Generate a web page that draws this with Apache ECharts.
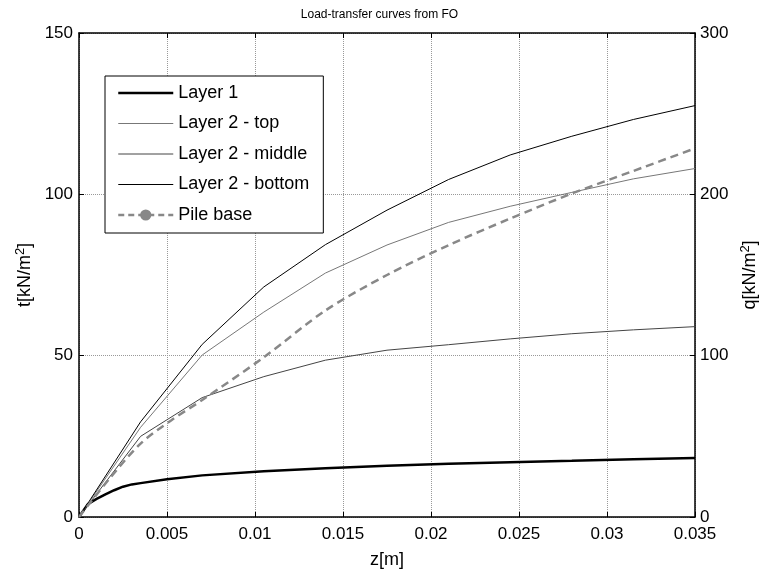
<!DOCTYPE html>
<html>
<head>
<meta charset="utf-8">
<script src="https://cdn.jsdelivr.net/npm/echarts@6/dist/echarts.min.js"></script>
<style>html,body{margin:0;padding:0;background:#fff;}#chart{width:759px;height:575px;}</style>
</head>
<body>
<div id="chart"></div>
<script>
const titleText = 'Load-transfer curves from FO';
const seriesNames = ['Layer 1', 'Layer 2 - top', 'Layer 2 - middle', 'Layer 2 - bottom', 'Pile base'];

const zLayer1 = [0, 0.0005, 0.001, 0.0015, 0.002, 0.0025, 0.003, 0.0035, 0.005, 0.007, 0.0105, 0.014, 0.0175, 0.021, 0.0245, 0.028, 0.0315, 0.035];
const tLayer1 = [0, 4, 5.6, 7, 8.3, 9.4, 10.1, 10.5, 11.7, 12.9, 14.2, 15.1, 15.9, 16.5, 17.0, 17.4, 17.9, 18.3];

const zLayer2 = [0, 0.0035, 0.007, 0.0105, 0.014, 0.0175, 0.021, 0.0245, 0.028, 0.0315, 0.035];
const tTop    = [0, 27.8, 50.2, 63.5, 75.6, 84.3, 91.3, 96.3, 100.6, 104.8, 108.0];
const tMiddle = [0, 25.0, 37.0, 43.5, 48.6, 51.7, 53.4, 55.2, 56.8, 58.0, 59.0];
const tBottom = [0, 29.5, 53.5, 71.3, 84.4, 95.1, 104.6, 112.2, 118.0, 123.2, 127.5];

const zPile = [0, 0.00175, 0.0035, 0.00525, 0.007, 0.0105, 0.014, 0.0175, 0.021, 0.0245, 0.028, 0.0315, 0.035];
const qPile = [0, 24, 45.5, 60, 72.5, 99, 128, 150, 168.5, 185, 200.5, 214.5, 228.5];

const xTicks = {min: 0, max: 0.035, interval: 0.005};
const tTicks = {min: 0, max: 150, interval: 50};
const qTicks = {min: 0, max: 300, interval: 100};

function pairs(xs, ys) { return xs.map((x, i) => [x, ys[i]]); }

const chart = echarts.init(document.getElementById('chart'), null, {renderer: 'canvas'});
const FONT = 'Liberation Sans, Arial, sans-serif';
const axisLine = {show: true, onZero: false, lineStyle: {color: '#000', width: 1.5}};
const tick = {show: true, inside: true, length: 5, lineStyle: {color: '#000', width: 1}};
const grid = {show: true, lineStyle: {color: '#999', type: 'dotted', width: 1}};
const supStyle = {fontFamily: FONT, fontSize: 13, color: '#000', verticalAlign: 'top', padding: [0, 0, 8, 0]};

const lineStyles = [
  {color: '#000', width: 2.5},
  {color: '#777', width: 1},
  {color: '#444', width: 1},
  {color: '#000', width: 1},
  {color: '#888', width: 2.5, type: [8, 5]}
];

chart.setOption({
  animation: false,
  backgroundColor: '#fff',
  title: {
    text: titleText, left: 'center', top: 4,
    textStyle: {fontFamily: FONT, fontSize: 12, fontWeight: 'normal', color: '#000'}
  },
  grid: {left: 79, right: 64, top: 33, bottom: 58, containLabel: false, outerBoundsMode: 'none'},
  legend: {
    data: seriesNames.map((n, i) => i < 4
      ? {name: n, itemStyle: {opacity: 0}, lineStyle: lineStyles[i]}
      : {name: n, lineStyle: {color: '#888', width: 2.5, type: [6, 4]}}),
    orient: 'vertical', left: 105, top: 76,
    itemWidth: 55, itemHeight: 14, itemGap: 12.5,
    padding: [8, 14, 9, 12],
    borderColor: '#000', borderWidth: 1, backgroundColor: '#fff',
    textStyle: {fontFamily: FONT, fontSize: 18, color: '#000'}
  },
  xAxis: [{
    type: 'value', position: 'bottom', min: xTicks.min, max: xTicks.max, interval: xTicks.interval,
    name: 'z[m]', nameLocation: 'middle', nameGap: 34,
    nameTextStyle: {fontFamily: FONT, fontSize: 18, color: '#000'},
    axisLine: axisLine, axisTick: tick, splitLine: grid,
    axisLabel: {fontFamily: FONT, fontSize: 17, color: '#000', margin: 9}
  }, {
    type: 'value', position: 'top', min: xTicks.min, max: xTicks.max, interval: xTicks.interval,
    axisLine: axisLine, axisTick: tick, splitLine: {show: false}, axisLabel: {show: false}
  }],
  yAxis: [{
    type: 'value', position: 'left', min: tTicks.min, max: tTicks.max, interval: tTicks.interval,
    name: 't[kN/m{sup|2}]', nameLocation: 'middle', nameGap: 41, nameRotate: 90,
    nameTextStyle: {fontFamily: FONT, fontSize: 18, color: '#000', rich: {sup: supStyle}},
    axisLine: axisLine, axisTick: tick, splitLine: grid,
    axisLabel: {fontFamily: FONT, fontSize: 17, color: '#000', margin: 6}
  }, {
    type: 'value', position: 'right', min: qTicks.min, max: qTicks.max, interval: qTicks.interval,
    name: 'q[kN/m{sup|2}]', nameLocation: 'middle', nameGap: 42, nameRotate: 90,
    nameTextStyle: {fontFamily: FONT, fontSize: 18, color: '#000', rich: {sup: supStyle}},
    axisLine: axisLine, axisTick: tick, splitLine: {show: false},
    axisLabel: {fontFamily: FONT, fontSize: 17, color: '#000', margin: 5}
  }],
  series: [
    {name: seriesNames[0], type: 'line', xAxisIndex: 0, yAxisIndex: 0, data: pairs(zLayer1, tLayer1),
     symbol: 'none', lineStyle: lineStyles[0], itemStyle: {color: '#000'}},
    {name: seriesNames[1], type: 'line', xAxisIndex: 0, yAxisIndex: 0, data: pairs(zLayer2, tTop),
     symbol: 'none', lineStyle: lineStyles[1], itemStyle: {color: '#777'}},
    {name: seriesNames[2], type: 'line', xAxisIndex: 0, yAxisIndex: 0, data: pairs(zLayer2, tMiddle),
     symbol: 'none', lineStyle: lineStyles[2], itemStyle: {color: '#444'}},
    {name: seriesNames[3], type: 'line', xAxisIndex: 0, yAxisIndex: 0, data: pairs(zLayer2, tBottom),
     symbol: 'none', lineStyle: lineStyles[3], itemStyle: {color: '#000'}},
    {name: seriesNames[4], type: 'line', xAxisIndex: 0, yAxisIndex: 1, data: pairs(zPile, qPile),
     smooth: 0.3, symbol: 'circle', symbolSize: 5, showSymbol: false,
     lineStyle: lineStyles[4], itemStyle: {color: '#888'}}
  ]
});
</script>
</body>
</html>
